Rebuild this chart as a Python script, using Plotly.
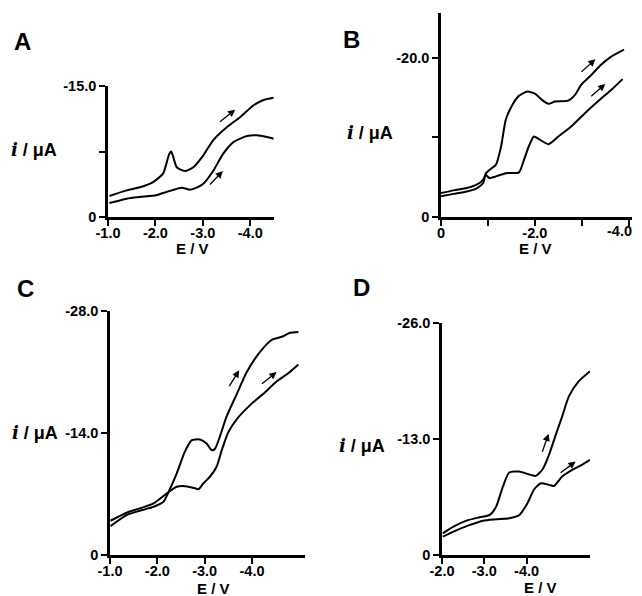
import plotly.graph_objects as go

W, H = 642, 596
OFF = 8                      # page body margin of the rendered html
FW, FH = W - OFF, H - OFF    # figure size so that it fills the window exactly

# ---------------- data (E in V, i in µA) ----------------
A_E_1 = [-1.03, -1.39, -1.67, -1.95, -2.16, -2.23, -2.29, -2.33, -2.37, -2.45, -2.62, -2.80, -3.01, -3.22, -3.51, -3.79, -4.07, -4.28, -4.49]
A_i_1 = [-2.4, -3.05, -3.4, -4.0, -4.96, -6.1, -7.2, -7.5, -7.0, -5.7, -5.27, -5.7, -7.06, -8.8, -10.3, -11.45, -12.8, -13.4, -13.66]
A_E_2 = [-1.03, -1.39, -1.67, -2.02, -2.23, -2.55, -2.73, -2.87, -3.01, -3.22, -3.43, -3.65, -3.93, -4.14, -4.35, -4.49]
A_i_2 = [-1.6, -2.1, -2.3, -2.5, -2.86, -3.36, -3.13, -3.36, -3.8, -5.3, -7.25, -8.6, -9.27, -9.35, -9.16, -8.97]

B_E_1 = [0.0, -0.27, -0.55, -0.76, -0.90, -0.96, -1.03, -1.17, -1.28, -1.38, -1.52, -1.66, -1.84, -2.01, -2.15, -2.29, -2.43, -2.71, -2.85, -2.99, -3.20, -3.41, -3.62, -3.90]
B_i_1 = [-3.0, -3.34, -3.63, -4.05, -4.7, -5.5, -5.9, -6.55, -8.85, -12.2, -14.07, -15.2, -15.74, -15.45, -14.7, -14.2, -14.5, -14.6, -15.3, -16.6, -17.8, -19.1, -20.1, -21.0]
B_E_2 = [0.0, -0.27, -0.55, -0.76, -0.90, -0.95, -1.03, -1.17, -1.38, -1.66, -1.77, -1.87, -1.98, -2.08, -2.29, -2.50, -2.78, -3.06, -3.34, -3.62, -3.87]
B_i_2 = [-2.6, -2.9, -3.2, -3.6, -4.26, -5.3, -4.9, -5.1, -5.5, -5.6, -7.2, -8.85, -10.1, -9.8, -9.14, -10.1, -11.4, -13.0, -14.5, -15.9, -17.3]

C_E_1 = [-1.01, -1.35, -1.63, -1.92, -2.13, -2.23, -2.41, -2.58, -2.73, -2.90, -3.04, -3.15, -3.22, -3.32, -3.46, -3.68, -3.89, -4.17, -4.42, -4.66, -4.80, -4.98]
C_i_1 = [-3.32, -4.58, -5.08, -5.54, -6.11, -7.14, -9.36, -11.84, -13.18, -13.25, -12.8, -12.03, -12.2, -13.56, -15.85, -18.5, -21.0, -23.3, -24.7, -25.1, -25.5, -25.6]
C_E_2 = [-1.01, -1.35, -1.63, -1.92, -2.20, -2.41, -2.58, -2.73, -2.87, -2.97, -3.11, -3.25, -3.36, -3.50, -3.68, -3.96, -4.24, -4.52, -4.80, -4.98]
C_i_2 = [-3.93, -4.85, -5.35, -5.92, -7.07, -7.83, -7.9, -7.75, -7.56, -8.21, -8.98, -10.1, -12.0, -14.1, -15.6, -17.2, -18.5, -19.9, -21.0, -21.85]

D_E_1 = [-2.02, -2.27, -2.58, -2.89, -3.13, -3.28, -3.44, -3.59, -3.83, -4.02, -4.22, -4.38, -4.53, -4.69, -4.84, -5.0, -5.23, -5.5]
D_i_1 = [-2.43, -3.18, -3.85, -4.23, -4.49, -5.42, -7.67, -9.24, -9.35, -9.09, -8.87, -9.61, -11.22, -13.47, -15.5, -17.77, -19.45, -20.6]
D_E_2 = [-2.02, -2.27, -2.66, -2.97, -3.28, -3.59, -3.83, -4.02, -4.18, -4.34, -4.53, -4.65, -4.84, -5.08, -5.31, -5.5]
D_i_2 = [-2.06, -2.62, -3.37, -3.85, -4.0, -4.12, -4.49, -5.8, -7.37, -8.04, -7.86, -7.74, -8.79, -9.54, -10.1, -10.66]

# tick values / labels
A_xticks = [-1, -2, -3, -4]; A_xtext = ["-1.0", "-2.0", "-3.0", "-4.0"]
A_yticks = [0, -7.5, -15]; A_ytext = ["0", "", "-15.0"]
B_xticks = [0, -1, -2, -3, -4]; B_xtext = ["0", "", "-2.0", "", ""]
B_last_label = "-4.0"        # drawn right-aligned so it stays inside the window
B_yticks = [0, -10, -20]; B_ytext = ["0", "", "-20.0"]
C_xticks = [-1, -2, -3, -4]; C_xtext = ["-1.0", "-2.0", "-3.0", "-4.0"]
C_yticks = [0, -14, -28]; C_ytext = ["0", "-14.0", "-28.0"]
D_xticks = [-2, -3, -4]; D_xtext = ["-2.0", "-3.0", "-4.0"]
D_yticks = [0, -13, -26]; D_ytext = ["0", "-13.0", "-26.0"]

# scan-direction arrows: (tail E, tail i, head E, head i)
A_arrows = [(-3.33, -10.76, -3.68, -12.29), (-3.12, -3.55, -3.42, -5.27)]
B_arrows = [(-2.96, -18.04, -3.29, -19.8), (-3.17, -15.0, -3.50, -16.7)]
C_arrows = [(-3.50, -19.2, -3.73, -21.2), (-4.18, -19.5, -4.52, -21.0)]
D_arrows = [(-4.36, -11.4, -4.52, -13.58), (-4.77, -9.09, -5.16, -10.48)]

# ---------------- layout helpers (window pixels -> paper fractions) ----------------
def px(x):
    return (x - OFF) / FW

def py(y):
    return 1 - (y - OFF) / FH

FONT = "Liberation Sans, Arial, sans-serif"
TICKFONT = dict(family=FONT, size=14.5, color="black", weight="bold")

panels = [
    ("A", 1, [(A_E_1, A_i_1), (A_E_2, A_i_2)], [-1, -4.5], [0, -15], (108, 274), (86, 217),
     (A_xticks, A_xtext, A_yticks, A_ytext), A_arrows),
    ("B", 2, [(B_E_1, B_i_1), (B_E_2, B_i_2)], [0, -4.07], [0, -25.6], (441, 632), (13, 217),
     (B_xticks, B_xtext, B_yticks, B_ytext), B_arrows),
    ("C", 3, [(C_E_1, C_i_1), (C_E_2, C_i_2)], [-1, -5.12], [0, -28], (110, 305), (311, 555),
     (C_xticks, C_xtext, C_yticks, C_ytext), C_arrows),
    ("D", 4, [(D_E_1, D_i_1), (D_E_2, D_i_2)], [-2, -5.5], [0, -26], (442, 590), (323, 555),
     (D_xticks, D_xtext, D_yticks, D_ytext), D_arrows),
]

fig = go.Figure()
layout = dict(
    template="none",
    width=FW, height=FH,
    margin=dict(l=0, r=0, t=0, b=0, pad=0),
    paper_bgcolor="white", plot_bgcolor="white",
    showlegend=False,
    font=dict(family=FONT, color="black"),
)
annotations = []

for name, k, curves, xr, yr, xd, yd, ticks, arrows in panels:
    xa = "x" if k == 1 else f"x{k}"
    ya = "y" if k == 1 else f"y{k}"
    for E, i in curves:
        fig.add_trace(go.Scatter(
            x=E, y=i, xaxis=xa, yaxis=ya, mode="lines",
            line=dict(color="black", width=2, shape="spline", smoothing=0.6),
            hoverinfo="skip"))
    xt, xtt, yt, ytt = ticks
    common = dict(showline=True, linewidth=2.5, linecolor="black", ticks="outside",
                  ticklen=6, tickwidth=2, tickcolor="black", showgrid=False, zeroline=False,
                  tickfont=TICKFONT, automargin=False, fixedrange=True)
    layout["xaxis" if k == 1 else f"xaxis{k}"] = dict(
        common, domain=[px(xd[0]), px(xd[1])], range=xr, tickvals=xt, ticktext=xtt,
        anchor=ya, ticklabelstandoff=-5)
    layout["yaxis" if k == 1 else f"yaxis{k}"] = dict(
        common, domain=[py(yd[1]), py(yd[0])], range=yr, tickvals=yt, ticktext=ytt,
        anchor=xa)
    for (e0, i0, e1, i1) in arrows:
        annotations.append(dict(
            x=e1, y=i1, ax=e0, ay=i0, xref=xa, yref=ya, axref=xa, ayref=ya,
            showarrow=True, arrowhead=2, arrowsize=1.1, arrowwidth=1.3,
            arrowcolor="black", standoff=0, startstandoff=0, text=""))

# last x label of panel B, kept inside the visible right edge
annotations.append(dict(text=B_last_label, x=px(634), y=py(231), xref="paper", yref="paper",
                        showarrow=False, xanchor="right", yanchor="middle", font=TICKFONT))

# panel letters
for txt, x, y in [("A", 22, 41), ("B", 351, 39), ("C", 25, 289), ("D", 361, 287)]:
    annotations.append(dict(text=txt, x=px(x), y=py(y), xref="paper", yref="paper",
                            showarrow=False, xanchor="center", yanchor="middle",
                            font=dict(family=FONT, size=24, color="black", weight="bold")))

ylab = "<span style='font-family:DejaVu Serif'><i>i</i></span> / μA"
for x, y in [(34, 149), (370, 133), (35, 432), (362, 445)]:
    annotations.append(dict(text=ylab, x=px(x), y=py(y), xref="paper", yref="paper",
                            showarrow=False, xanchor="center", yanchor="middle",
                            font=dict(family=FONT, size=18, color="black", weight="bold")))

for x, y in [(192, 248), (535, 248), (213, 588), (540, 587)]:
    annotations.append(dict(text="E / V", x=px(x), y=py(y), xref="paper", yref="paper",
                            showarrow=False, xanchor="center", yanchor="middle",
                            font=dict(family=FONT, size=15, color="black", weight="bold")))

layout["annotations"] = annotations
fig.update_layout(**layout)
fig.write_html("out.html")
